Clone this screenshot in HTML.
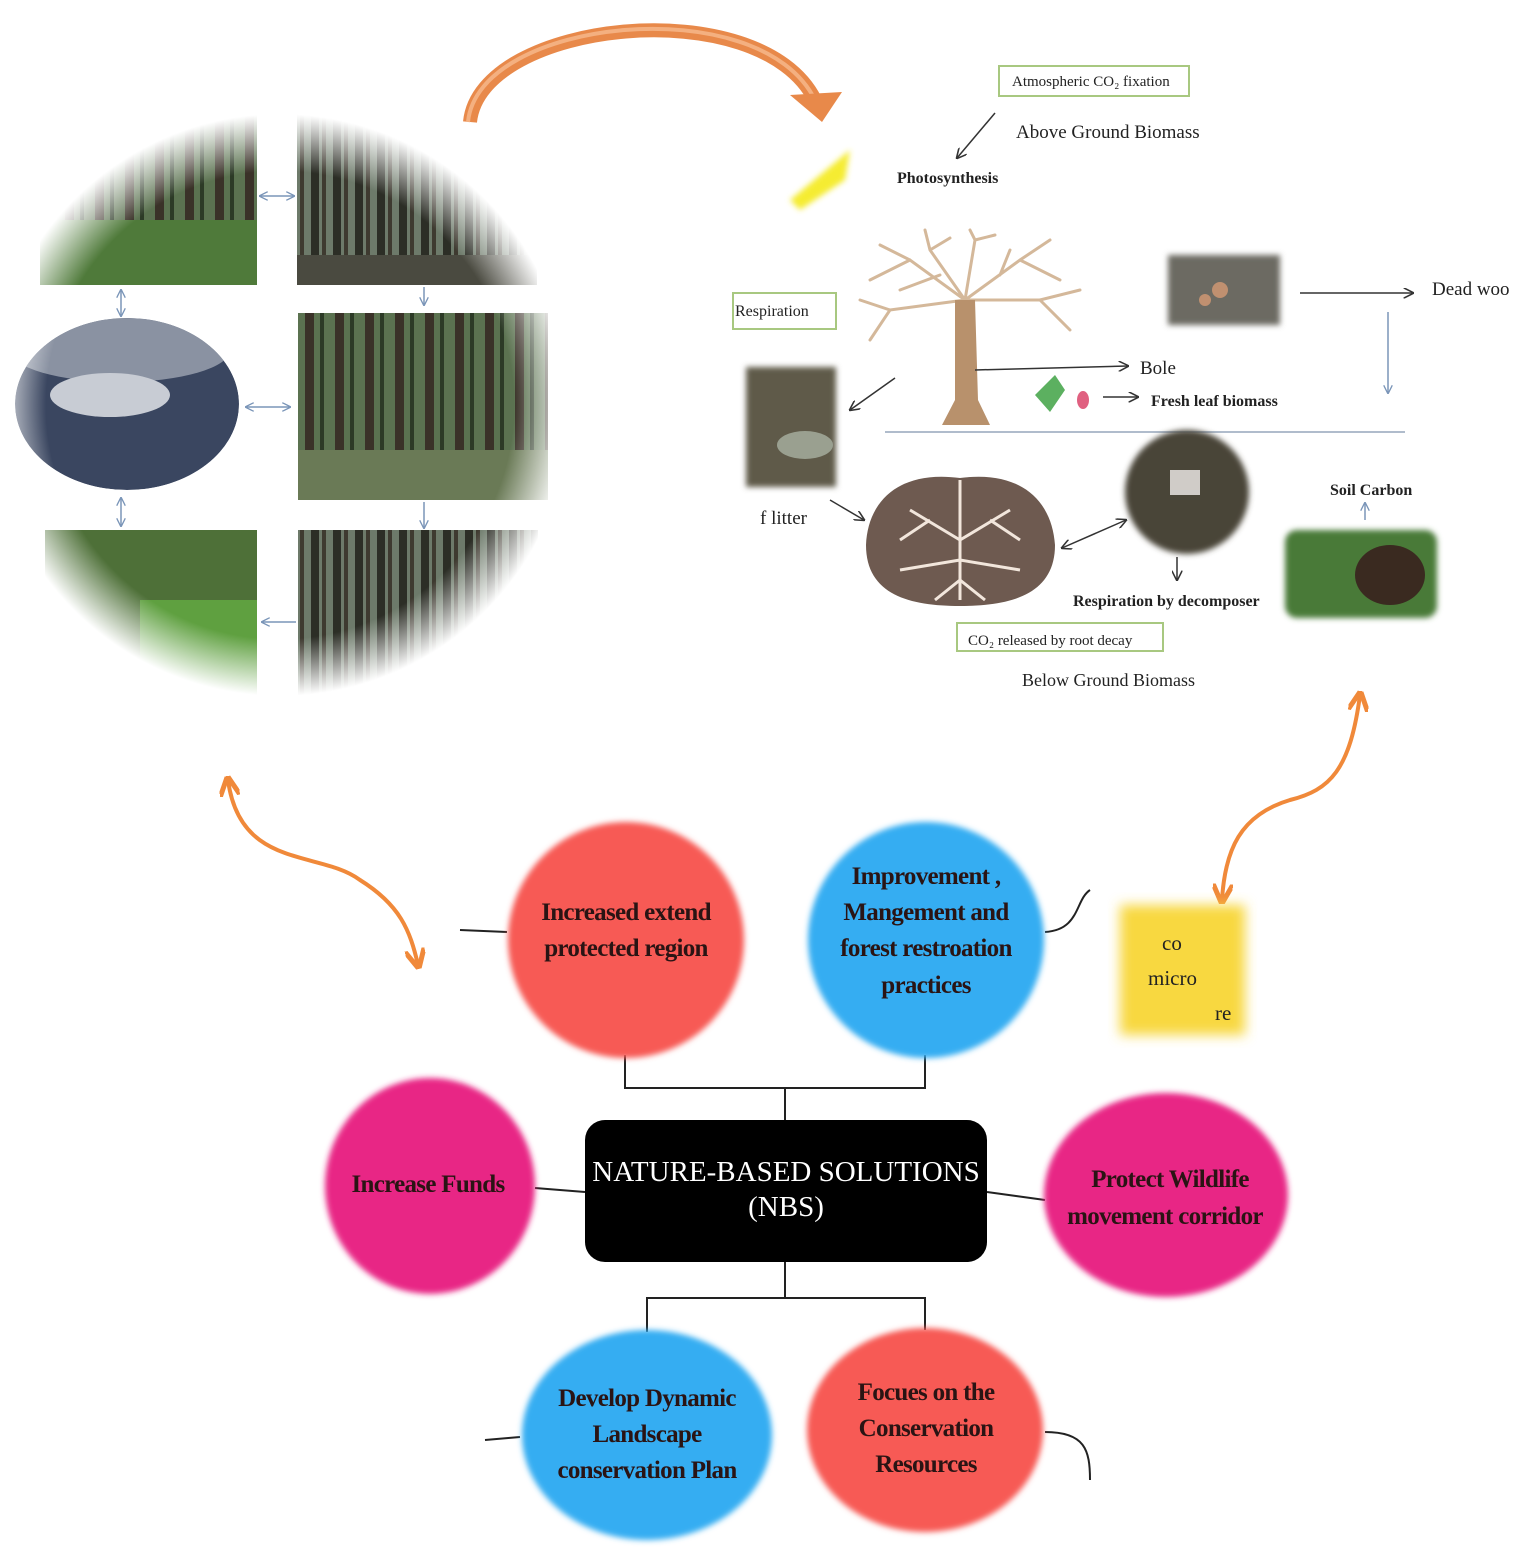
<!DOCTYPE html>
<html><head><meta charset="utf-8"><style>
html,body{margin:0;padding:0;background:#fff;}
svg{display:block;}
.c{font-family:"Liberation Serif",serif;font-weight:bold;fill:#2a1414;letter-spacing:-0.7px;}
.s{font-family:"Liberation Serif",serif;fill:#222;}
</style></head><body>
<svg width="1535" height="1552" viewBox="0 0 1535 1552" xmlns="http://www.w3.org/2000/svg">
<defs>
<radialGradient id="fade" cx="280" cy="405" r="300" gradientUnits="userSpaceOnUse">
<stop offset="0.78" stop-color="#fff"/><stop offset="0.97" stop-color="#000"/></radialGradient>
<mask id="m"><rect width="600" height="720" fill="url(#fade)"/></mask>
<clipPath id="cl"><ellipse cx="127" cy="404" rx="112" ry="86"/></clipPath>
<pattern id="trees" width="22" height="200" patternUnits="userSpaceOnUse">
<rect width="22" height="200" fill="#6d7a6a"/><rect x="3" width="8" height="200" fill="#2c2e26"/><rect x="14" width="4" height="200" fill="#3e3a30"/></pattern>
<pattern id="trees2" width="30" height="200" patternUnits="userSpaceOnUse">
<rect width="30" height="200" fill="#5b7250"/><rect x="5" width="9" height="200" fill="#3a3228"/><rect x="20" width="4" height="200" fill="#2c3a26"/></pattern>
<filter id="b"><feGaussianBlur stdDeviation="6"/></filter>
<filter id="b2"><feGaussianBlur stdDeviation="3"/></filter>
<marker id="ah" viewBox="0 0 10 10" refX="9" refY="5" markerWidth="7" markerHeight="7" orient="auto-start-reverse"><path d="M0,0 L10,5 L0,10" fill="none" stroke="#333" stroke-width="1.5"/></marker>
<marker id="bh" viewBox="0 0 10 10" refX="9" refY="5" markerWidth="6" markerHeight="6" orient="auto-start-reverse"><path d="M0,0 L10,5 L0,10" fill="none" stroke="#7a95b8" stroke-width="1.5"/></marker>
<marker id="oh" viewBox="0 0 10 10" refX="8" refY="5" markerWidth="5" markerHeight="5" orient="auto-start-reverse"><path d="M0,0 L10,5 L0,10" fill="none" stroke="#f0893a" stroke-width="2.5"/></marker>
</defs>

<g mask="url(#m)">
<rect x="40" y="110" width="217" height="175" fill="url(#trees2)"/>
<rect x="40" y="220" width="217" height="65" fill="#4f7a3a"/>
<rect x="297" y="110" width="240" height="175" fill="url(#trees)"/>
<rect x="297" y="255" width="240" height="30" fill="#4a4a40"/>
<g clip-path="url(#cl)">
<ellipse cx="127" cy="404" rx="112" ry="86" fill="#3a4660"/>
<ellipse cx="120" cy="350" rx="110" ry="32" fill="#8a92a2"/>
<ellipse cx="110" cy="395" rx="60" ry="22" fill="#c8ccd4"/>
</g>
<rect x="298" y="313" width="250" height="187" fill="url(#trees2)"/>
<rect x="298" y="450" width="250" height="50" fill="#6a7a56"/>
<rect x="45" y="530" width="212" height="165" fill="#4e7038"/>
<rect x="140" y="600" width="117" height="95" fill="#5fa040"/>
<rect x="298" y="530" width="240" height="165" fill="url(#trees)"/>
</g>
<g stroke="#7a95b8" stroke-width="1.5" fill="none">
<line x1="260" y1="196" x2="294" y2="196" marker-start="url(#bh)" marker-end="url(#bh)"/>
<line x1="121" y1="290" x2="121" y2="316" marker-start="url(#bh)" marker-end="url(#bh)"/>
<line x1="424" y1="287" x2="424" y2="305" marker-end="url(#bh)"/>
<line x1="246" y1="407" x2="290" y2="407" marker-start="url(#bh)" marker-end="url(#bh)"/>
<line x1="121" y1="498" x2="121" y2="526" marker-start="url(#bh)" marker-end="url(#bh)"/>
<line x1="424" y1="502" x2="424" y2="528" marker-end="url(#bh)"/>
<line x1="296" y1="622" x2="262" y2="622" marker-end="url(#bh)"/>
</g>

<path d="M470,122 C480,20 760,-10 815,100" fill="none" stroke="#e8894a" stroke-width="14"/>
<path d="M468,122 C478,18 760,-12 815,100" fill="none" stroke="#f4b080" stroke-width="4"/>
<path d="M790,95 L842,92 L822,122 Z" fill="#e8894a"/>

<path d="M790,200 L850,150 L845,180 L800,210 Z" fill="#f5ec30" filter="url(#b2)"/>
<rect x="999" y="66" width="190" height="30" fill="#fff" stroke="#a8c880" stroke-width="2"/>
<text x="1012" y="86" class="s" font-size="15" fill="#555">Atmospheric CO₂ fixation</text>
<text x="1016" y="138" class="s" font-size="19">Above Ground Biomass</text>
<line x1="995" y1="113" x2="957" y2="158" stroke="#333" stroke-width="1.5" marker-end="url(#ah)"/>
<text x="897" y="183" class="s" font-size="16" font-weight="bold">Photosynthesis</text>
<g stroke="#d4b89a" stroke-width="3" fill="none" stroke-linecap="round">
<path d="M965,300 L910,260 L880,245 M910,260 L870,280 M965,300 L930,250 L925,230 M930,250 L950,238 M965,300 L975,240 L970,230 M975,240 L995,235 M965,300 L1020,260 L1050,240 M1020,260 L1060,280 M965,300 L1040,300 L1080,290 M1040,300 L1070,330 M965,300 L890,310 L860,300 M890,310 L870,340 M1000,275 L1010,250 M940,275 L900,290"/>
</g>
<path d="M955,300 L975,300 L978,400 L990,425 L942,425 L955,400 Z" fill="#b8916c"/>
<rect x="733" y="293" width="103" height="36" fill="#fff" stroke="#a8c880" stroke-width="2"/>
<text x="735" y="316" class="s" font-size="16" fill="#444">Respiration</text>
<rect x="1168" y="255" width="112" height="70" fill="#6c6a62" filter="url(#b2)"/>
<circle cx="1220" cy="290" r="8" fill="#c09070"/><circle cx="1205" cy="300" r="6" fill="#c09070"/>
<line x1="1300" y1="293" x2="1413" y2="293" stroke="#333" stroke-width="1.5" marker-end="url(#ah)"/>
<text x="1432" y="295" class="s" font-size="19">Dead woo</text>
<line x1="1388" y1="312" x2="1388" y2="393" stroke="#7a95b8" stroke-width="1.5" marker-end="url(#bh)"/>
<line x1="975" y1="370" x2="1128" y2="366" stroke="#333" stroke-width="1.5" marker-end="url(#ah)"/>
<text x="1140" y="374" class="s" font-size="19">Bole</text>
<path d="M1035,395 L1055,375 L1065,390 L1050,412 Z" fill="#5cb060"/>
<ellipse cx="1083" cy="400" rx="6" ry="9" fill="#e06080"/>
<line x1="1103" y1="397" x2="1138" y2="397" stroke="#333" stroke-width="1.5" marker-end="url(#ah)"/>
<text x="1151" y="406" class="s" font-size="16" font-weight="bold">Fresh leaf biomass</text>
<rect x="746" y="367" width="90" height="120" fill="#5e5a48" filter="url(#b2)"/>
<ellipse cx="805" cy="445" rx="28" ry="14" fill="#9aa090"/>
<line x1="895" y1="378" x2="850" y2="410" stroke="#333" stroke-width="1.5" marker-end="url(#ah)"/>
<line x1="885" y1="432" x2="1405" y2="432" stroke="#b0bccc" stroke-width="2"/>
<text x="760" y="524" class="s" font-size="19">f litter</text>
<line x1="830" y1="500" x2="864" y2="520" stroke="#333" stroke-width="1.5" marker-end="url(#ah)"/>
<path d="M960,478 C900,470 868,500 866,545 C866,595 910,606 960,606 C1010,606 1055,595 1055,545 C1052,500 1020,470 960,478 Z" fill="#6e5a50"/>
<g stroke="#f2e6dc" stroke-width="3" fill="none"><path d="M960,480 L960,600 M960,540 L910,510 M960,540 L1010,510 M960,560 L900,570 M960,560 L1020,570 M930,520 L900,540 M990,520 L1020,540 M960,580 L935,600 M960,580 L985,600"/></g>
<circle cx="1187" cy="492" r="62" fill="#4a4438" filter="url(#b2)"/>
<rect x="1170" y="470" width="30" height="25" fill="#d0ccc8"/>
<line x1="1062" y1="548" x2="1126" y2="520" stroke="#333" stroke-width="1.5" marker-start="url(#ah)" marker-end="url(#ah)"/>
<line x1="1177" y1="557" x2="1177" y2="580" stroke="#333" stroke-width="1.5" marker-end="url(#ah)"/>
<text x="1073" y="606" class="s" font-size="16" font-weight="bold">Respiration by decomposer</text>
<rect x="957" y="623" width="206" height="28" fill="#fff" stroke="#a8c880" stroke-width="2"/>
<text x="968" y="645" class="s" font-size="15" fill="#333">CO₂ released by root decay</text>
<text x="1022" y="686" class="s" font-size="18" fill="#999">Below Ground Biomass</text>
<text x="1330" y="495" class="s" font-size="16" font-weight="bold">Soil Carbon</text>
<line x1="1365" y1="520" x2="1365" y2="503" stroke="#7a95b8" stroke-width="1.5" marker-end="url(#bh)"/>
<rect x="1285" y="530" width="152" height="88" rx="12" fill="#4a7a38" filter="url(#b2)"/>
<ellipse cx="1390" cy="575" rx="35" ry="30" fill="#3a2a20"/>

<path d="M228,780 C240,870 320,850 360,880 C400,905 410,930 418,965" fill="none" stroke="#f0893a" stroke-width="4" marker-start="url(#oh)" marker-end="url(#oh)"/>
<path d="M1360,695 C1350,770 1330,790 1290,800 C1240,815 1225,850 1222,900" fill="none" stroke="#f0893a" stroke-width="4" marker-start="url(#oh)" marker-end="url(#oh)"/>

<g stroke="#222" stroke-width="2" fill="none">
<path d="M625,1055 L625,1088 L925,1088 L925,1055 M785,1088 L785,1120"/>
<path d="M785,1262 L785,1298 L647,1298 L647,1332 M785,1298 L925,1298 L925,1330"/>
<path d="M535,1188 L585,1192 M987,1192 L1045,1200"/>
<path d="M460,930 L507,932 M1045,932 C1080,930 1075,900 1090,890 M520,1437 L485,1440 M1045,1432 C1085,1432 1090,1450 1090,1480"/>
</g>
<rect x="1120" y="905" width="125" height="130" fill="#f8d840" filter="url(#b)"/>
<text x="1148" y="985" class="s" font-size="21">micro</text>
<text x="1215" y="1020" class="s" font-size="21">re</text>
<text x="1162" y="950" class="s" font-size="21">co</text>

<g filter="url(#b2)">
<circle cx="626" cy="940" r="118" fill="#f75a55"/>
<circle cx="926" cy="940" r="118" fill="#35adf2"/>
<ellipse cx="430" cy="1186" rx="105" ry="108" fill="#e82585"/>
<ellipse cx="1166" cy="1195" rx="122" ry="102" fill="#e82585"/>
<ellipse cx="647" cy="1435" rx="125" ry="105" fill="#35adf2"/>
<ellipse cx="925" cy="1430" rx="118" ry="102" fill="#f75a55"/>
</g>
<rect x="585" y="1120" width="402" height="142" rx="20" fill="#000"/>
<text x="786" y="1181" text-anchor="middle" font-family="Liberation Serif,serif" font-size="29" fill="#fff">NATURE-BASED SOLUTIONS</text>
<text x="786" y="1216" text-anchor="middle" font-family="Liberation Serif,serif" font-size="29" fill="#fff">(NBS)</text>

<g class="c" font-size="25" text-anchor="middle">
<text x="626" y="920">Increased  extend</text>
<text x="626" y="956">protected region</text>
<text x="926" y="884">Improvement ,</text>
<text x="926" y="920">Mangement and</text>
<text x="926" y="956">forest restroation</text>
<text x="926" y="993">practices</text>
<text x="428" y="1192">Increase Funds</text>
<text x="1170" y="1187">Protect Wildlife</text>
<text x="1165" y="1224">movement corridor</text>
<text x="647" y="1406">Develop  Dynamic</text>
<text x="647" y="1442">Landscape</text>
<text x="647" y="1478">conservation Plan</text>
<text x="926" y="1400">Focues on the</text>
<text x="926" y="1436">Conservation</text>
<text x="926" y="1472">Resources</text>
</g>
</svg>
</body></html>
